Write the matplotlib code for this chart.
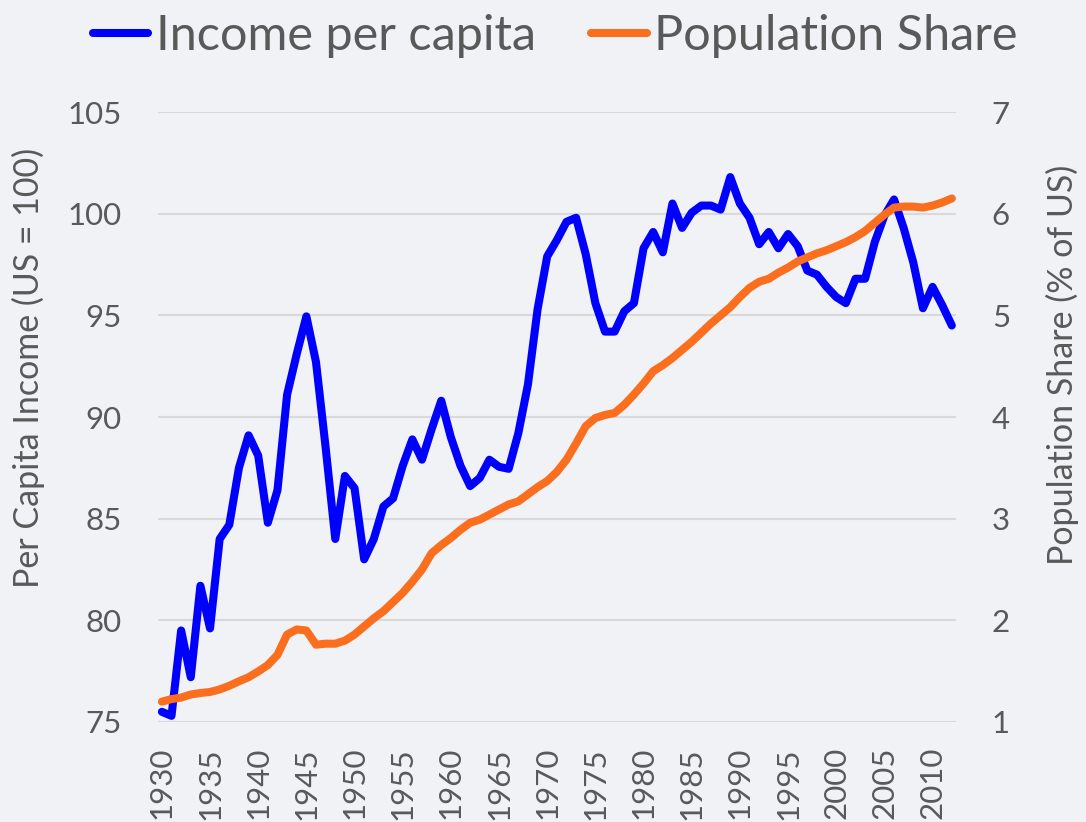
"""
Per capita income relative to the US vs population share, 1930-2012.
"""

import matplotlib.pyplot as plt
import numpy as np

plt.rcParams['font.family'] = ['Lato', 'DejaVu Sans']

years = np.arange(1930, 2013)

# Per capita income (US = 100)
income = [75.5, 75.3, 79.5, 77.2, 81.7, 79.6, 84.0, 84.7, 87.5, 89.1,
          88.1, 84.8, 86.4, 91.1, 93.1, 94.95, 92.7, 88.5, 84.0, 87.1,
          86.5, 83.0, 84.0, 85.6, 86.0, 87.6, 88.9, 87.9, 89.4, 90.8,
          89.0, 87.6, 86.6, 87.0, 87.9, 87.55, 87.45, 89.2, 91.6, 95.3,
          97.9, 98.7, 99.6, 99.8, 98.0, 95.6, 94.2, 94.2, 95.2, 95.6,
          98.3, 99.1, 98.1, 100.5, 99.3, 100.05, 100.4, 100.4, 100.2, 101.8,
          100.5, 99.8, 98.5, 99.1, 98.3, 99.0, 98.4, 97.2, 97.0, 96.4,
          95.9, 95.6, 96.8, 96.8, 98.6, 99.9, 100.7, 99.3, 97.6, 95.35,
          96.4, 95.5, 94.5]

# Population share (% of US)
pop_share = [1.20, 1.225, 1.24, 1.27, 1.285, 1.295, 1.32, 1.356, 1.40, 1.44,
             1.497, 1.56, 1.66, 1.86, 1.91, 1.90, 1.76, 1.77, 1.77, 1.80,
             1.86, 1.94, 2.02, 2.09, 2.18, 2.27, 2.38, 2.50, 2.66, 2.74,
             2.81, 2.89, 2.96, 2.99, 3.04, 3.09, 3.14, 3.17, 3.24, 3.31,
             3.37, 3.46, 3.58, 3.74, 3.91, 3.99, 4.02, 4.04, 4.12, 4.22,
             4.33, 4.45, 4.51, 4.58, 4.66, 4.74, 4.83, 4.92, 5.00, 5.08,
             5.18, 5.27, 5.33, 5.36, 5.42, 5.47, 5.53, 5.57, 5.61, 5.64,
             5.68, 5.72, 5.77, 5.83, 5.91, 5.99, 6.06, 6.07, 6.07, 6.06,
             6.08, 6.11, 6.15]

bg = "#F1F2F6"
text_col = "#595959"

fig = plt.figure(figsize=(10.86, 8.22), dpi=100, facecolor=bg)
ax = fig.add_axes([0.1455, 0.1217, 0.7345, 0.742])
ax.set_facecolor(bg)
ax2 = ax.twinx()

ax.plot(years, income, color="#0000FF", lw=5.8, solid_joinstyle="round",
        solid_capstyle="round", label="Income per capita", zorder=3)
ax2.plot(years, pop_share, color="#FA6E1E", lw=5.8, solid_joinstyle="round",
         solid_capstyle="round", label="Population Share", zorder=3)

ax.set_xlim(1929.6, 2012.4)
ax.set_ylim(75, 105)
ax2.set_ylim(1, 7)
ax.set_yticks(np.arange(75, 106, 5))
ax2.set_yticks(np.arange(1, 8, 1))
ax.set_xticks(np.arange(1930, 2011, 5))

ax.grid(axis="y", color="#D9D9D9", lw=1.5)
ax.set_axisbelow(True)
for a in (ax, ax2):
    for s in a.spines.values():
        s.set_visible(False)
    a.tick_params(length=0, labelsize=22.5, labelcolor=text_col)

ax.tick_params(axis="x", labelrotation=90, pad=18)
ax.tick_params(axis="y", pad=26)
ax2.tick_params(axis="y", pad=26)

# axis titles sit a bit above the middle, like the original
ax.set_ylabel("Per Capita Income (US = 100)", fontsize=24.5, color=text_col)
ax.yaxis.set_label_coords(-0.142, 0.58)
ax2.set_ylabel("Population Share (% of US)", fontsize=24.5, color=text_col)
ax2.yaxis.set_label_coords(1.113, 0.585)

handles = ax.get_lines() + ax2.get_lines()
fig.legend(handles, [h.get_label() for h in handles], loc="upper center",
           bbox_to_anchor=(0.511, 1.036), ncol=2, frameon=False, fontsize=35,
           labelcolor=text_col, handlelength=1.15, handletextpad=0.15,
           columnspacing=1.13)

fig.savefig("out.png", dpi=100, facecolor=bg)
